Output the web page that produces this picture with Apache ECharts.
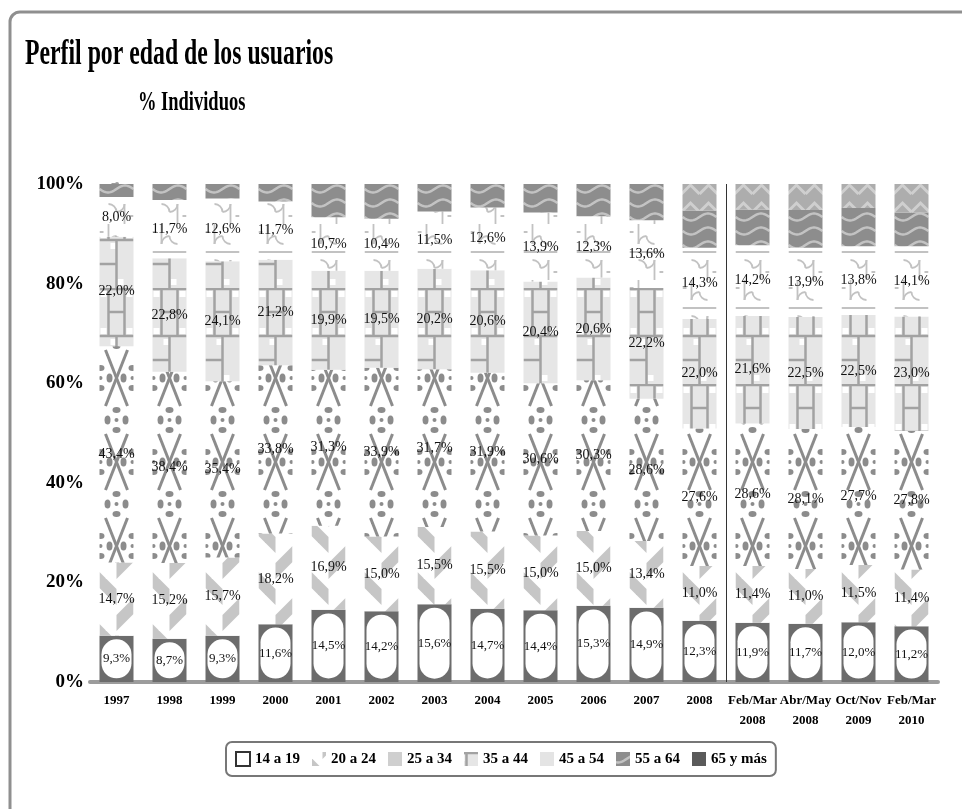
<!DOCTYPE html>
<html>
<head>
<meta charset="utf-8">
<script src="https://cdn.jsdelivr.net/npm/echarts@6/dist/echarts.min.js"></script>
<style>
  html, body { margin: 0; padding: 0; background: #fff; }
  #chart { width: 962px; height: 809px; }
</style>
</head>
<body>
<div id="chart"></div>
<script>
// periodos
var periodos = ['1997', '1998', '1999', '2000', '2001', '2002', '2003', '2004', '2005', '2006', '2007', '2008',
  'Feb/Mar\n2008', 'Abr/May\n2008', 'Oct/Nov\n2009', 'Feb/Mar\n2010'];
var edades = ['14 a 19', '20 a 24', '25 a 34', '35 a 44', '45 a 54', '55 a 64', '65 y más'];

// % individuos por tramo de edad
var e14_19 = [9.3, 8.7, 9.3, 11.6, 14.5, 14.2, 15.6, 14.7, 14.4, 15.3, 14.9, 12.3, 11.9, 11.7, 12.0, 11.2];
var e20_24 = [14.7, 15.2, 15.7, 18.2, 16.9, 15.0, 15.5, 15.5, 15.0, 15.0, 13.4, 11.0, 11.4, 11.0, 11.5, 11.4];
var e25_34 = [43.4, 38.4, 35.4, 33.8, 31.3, 33.9, 31.7, 31.9, 30.6, 30.3, 28.6, 27.6, 28.6, 28.1, 27.7, 27.8];
var e35_44 = [22.0, 22.8, 24.1, 21.2, 19.9, 19.5, 20.2, 20.6, 20.4, 20.6, 22.2, 22.0, 21.6, 22.5, 22.5, 23.0];
var e45_54 = [8.0, 11.7, 12.6, 11.7, 10.7, 10.4, 11.5, 12.6, 13.9, 12.3, 13.6, 14.3, 14.2, 13.9, 13.8, 14.1];
// sin etiqueta en el grafico (estimados)
var e55_64 = [2.6, 3.2, 2.9, 3.5, 6.7, 7.0, 5.5, 4.7, 5.7, 6.5, 7.3, 7.5, 7.2, 7.6, 7.7, 6.8];
var e65_mas = [0, 0, 0, 0, 0, 0, 0, 0, 0, 0, 0, 5.3, 5.1, 5.2, 4.8, 5.7];

var yTicks = [0, 20, 40, 60, 80, 100];
var separador = 11.5; // entre 2008 y Feb/Mar 2008

var SERIF = '"Liberation Serif", "Times New Roman", serif';

// geometria: cada categoria mide 53px, asi la trama cae igual en todas las barras
var GRID_LEFT = 90, ANCHO_CAT = 53, ANCHO_BARRA = 34;
var FASE = (GRID_LEFT + (ANCHO_CAT - ANCHO_BARRA) / 2) % ANCHO_CAT;

//tramas en escala de grises
function trama(h, fondo, draw){
  var c = document.createElement('canvas');
  c.width = ANCHO_CAT; c.height = h;
  var g = c.getContext('2d');
  g.fillStyle = fondo; g.fillRect(0, 0, ANCHO_CAT, h);
  [FASE, FASE - ANCHO_CAT].forEach(function(dx){
    g.save(); g.translate(dx, 0); draw(g, ANCHO_BARRA, h); g.restore();
  });
  return { image: c, repeat: 'repeat' };
}
var tramas = [
  '#6c6c6c',
  trama(52, '#fff', function(g, w, h){
    g.fillStyle = '#c6c6c6';
    [-52, 0, 52].forEach(function(o){
      g.beginPath(); g.moveTo(0, o); g.lineTo(17, o + 17); g.lineTo(17, o + 33); g.lineTo(0, o + 16); g.fill();
      g.beginPath(); g.moveTo(34, o + 26); g.lineTo(17, o + 43); g.lineTo(17, o + 59); g.lineTo(34, o + 42); g.fill();
    });
  }),
  trama(84, '#fff', function(g, w, h){
    g.strokeStyle = '#8c8c8c'; g.lineWidth = 3;
    g.beginPath(); g.moveTo(6, 14); g.lineTo(28, 70); g.stroke();
    g.beginPath(); g.moveTo(28, 14); g.lineTo(6, 70); g.stroke();
    g.fillStyle = '#8c8c8c';
    [[17, 0], [17, 84], [1, 42], [33, 42]].forEach(function(p){
      g.beginPath(); g.arc(p[0], p[1], 2, 0, Math.PI * 2); g.fill();
      [[0, -10], [0, 10], [-9, 0], [9, 0]].forEach(function(d){
        g.beginPath(); g.ellipse(p[0] + d[0], p[1] + d[1], d[0] ? 3 : 4, d[0] ? 4.5 : 3, 0, 0, Math.PI * 2); g.fill();
      });
    });
  }),
  trama(96, '#e6e6e6', function(g, w, h){
    g.fillStyle = '#fff';
    [[1, 3], [27, 3], [1, 40], [27, 40], [11, 51], [18, 87]].forEach(function(p){ g.fillRect(p[0], p[1], 6, 6); });
    g.strokeStyle = '#a2a2a2'; g.lineWidth = 2.5;
    g.beginPath();
    g.moveTo(0, 1); g.lineTo(34, 1);
    g.moveTo(0, 48); g.lineTo(34, 48);
    g.moveTo(9, 0); g.lineTo(9, 48);
    g.moveTo(25, 0); g.lineTo(25, 48);
    g.moveTo(9, 24); g.lineTo(25, 24);
    g.moveTo(17, 48); g.lineTo(17, 96);
    g.moveTo(0, 72); g.lineTo(17, 72);
    g.stroke();
  }),
  trama(56, '#fff', function(g, w, h){
    g.strokeStyle = '#c2c2c2'; g.lineWidth = 1.8;
    g.beginPath();
    g.moveTo(9, 0); g.lineTo(9, 20);
    g.moveTo(25, 36); g.lineTo(25, 56);
    g.moveTo(0, 28); g.lineTo(34, 28);
    g.moveTo(0, 8); g.lineTo(4, 8);
    g.moveTo(30, 48); g.lineTo(34, 48);
    g.stroke();
    g.beginPath(); g.arc(17, 20, 8, Math.PI, Math.PI * 1.5); g.stroke();
    g.beginPath(); g.arc(17, 36, 8, 0, Math.PI * 0.5); g.stroke();
    g.beginPath(); g.arc(25, 12, 8, Math.PI * 0.5, Math.PI); g.stroke();
    g.beginPath(); g.arc(9, 44, 8, Math.PI * 1.5, Math.PI * 2); g.stroke();
  }),
  trama(14, '#8d8d8d', function(g, w, h){
    g.strokeStyle = '#c3c3c3'; g.lineWidth = 2.5;
    [-14, 0, 14].forEach(function(o){
      g.beginPath();
      for (var x = 0; x <= w; x++) {
        var y = o + 7 + 3.5 * Math.sin(x / w * Math.PI * 2);
        if (x === 0) g.moveTo(x, y); else g.lineTo(x, y);
      }
      g.stroke();
    });
  }),
  trama(18, '#adadad', function(g, w, h){
    g.strokeStyle = '#cfcfcf'; g.lineWidth = 3;
    [-1, 17].forEach(function(x0){
      g.beginPath(); g.moveTo(x0, 14); g.lineTo(x0 + 9, 5); g.lineTo(x0 + 18, 14); g.stroke();
    });
  })
];
var iconos = ['#fff', null, '#cfcfcf', null, '#e4e4e4', null, '#5a5a5a'];

var valores = [e14_19, e20_24, e25_34, e35_44, e45_54, e55_64, e65_mas];
var pxPorPunto = 498 / 100;

function etiqueta(v){ return v.toFixed(1).replace('.', ',') + '%'; }

var series = edades.map(function(nombre, i){
  var s = {
    name: nombre,
    type: 'bar',
    stack: 'total',
    barWidth: ANCHO_BARRA,
    itemStyle: { color: tramas[i] },
    label: {
      show: i < 5,
      position: 'inside',
      color: '#111',
      fontFamily: SERIF,
      fontSize: 14,
      formatter: function(p){ return etiqueta(p.value); }
    },
    data: valores[i]
  };
  if (i === 0) {
    // ovalo blanco dentro del tramo oscuro
    s.data = valores[i].map(function(v){
      var alto = Math.round(v * pxPorPunto - 7);
      return { value: v, label: { height: alto, lineHeight: alto } };
    });
    s.label.backgroundColor = '#fff';
    s.label.width = 30;
    s.label.borderRadius = 15;
    s.label.align = 'center';
    s.label.fontSize = 13;
  }
  return s;
});

// linea vertical de separacion
series.push({
  type: 'line',
  xAxisIndex: 1,
  data: [],
  silent: true,
  markLine: {
    symbol: 'none',
    silent: true,
    label: { show: false },
    lineStyle: { color: '#333', width: 1, type: 'solid' },
    data: [{ xAxis: separador }]
  }
});

var chart = echarts.init(document.getElementById('chart'));
chart.setOption({
  animation: false,
  graphic: [
    { type: 'rect', z: -10, shape: { x: 10, y: 12, width: 990, height: 840, r: 10 },
      style: { fill: 'none', stroke: '#8f8f8f', lineWidth: 3 } },
    { type: 'text', x: 25, y: 37, scaleX: 0.66,
      style: { text: 'Perfil por edad de los usuarios', font: 'bold 36px ' + SERIF, fill: '#000', verticalAlign: 'top' } },
    { type: 'text', x: 138, y: 89, scaleX: 0.66,
      style: { text: '% Individuos', font: 'bold 28px ' + SERIF, fill: '#000', verticalAlign: 'top' } }
  ],
  grid: { left: GRID_LEFT, width: ANCHO_CAT * periodos.length, top: 184, bottom: 127 },
  legend: {
    left: 226,
    top: 742,
    padding: [9, 9],
    itemWidth: 14,
    itemHeight: 14,
    itemGap: 12,
    borderColor: '#777',
    borderWidth: 2,
    borderRadius: 6,
    textStyle: { fontFamily: SERIF, fontWeight: 'bold', fontSize: 15, color: '#000' },
    data: edades.map(function(n, i){
      if (i === 0) return { name: n, icon: 'rect', itemStyle: { color: '#fff', borderColor: '#333', borderWidth: 2 } };
      if (iconos[i]) return { name: n, icon: 'rect', itemStyle: { color: iconos[i] } };
      return { name: n, icon: 'rect' };
    })
  },
  xAxis: [{
    type: 'category',
    data: periodos,
    axisLine: { lineStyle: { color: '#9c9c9c', width: 4 } },
    axisTick: { length: 5, lineStyle: { color: '#9c9c9c', width: 3 } },
    axisLabel: { color: '#000', fontFamily: SERIF, fontWeight: 'bold', fontSize: 13, lineHeight: 20, margin: 9, interval: 0 }
  }, {
    type: 'value',
    min: -0.5,
    max: periodos.length - 0.5,
    show: false
  }],
  yAxis: {
    type: 'value',
    min: yTicks[0],
    max: yTicks[yTicks.length - 1],
    interval: 20,
    axisLine: { show: true, lineStyle: { color: '#9c9c9c', width: 4 } },
    axisTick: { show: true, length: 5, lineStyle: { color: '#9c9c9c', width: 3 } },
    splitLine: { show: false },
    axisLabel: { color: '#000', fontFamily: SERIF, fontWeight: 'bold', fontSize: 19, margin: 6, formatter: '{value}%' }
  },
  series: series
});
</script>
</body>
</html>
